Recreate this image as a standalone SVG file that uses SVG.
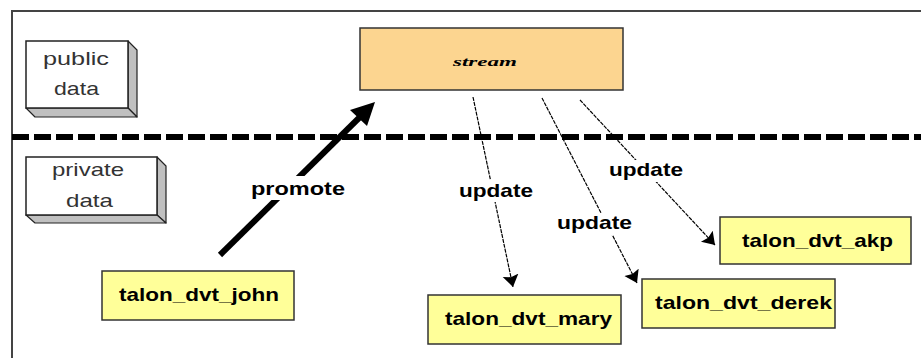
<svg xmlns="http://www.w3.org/2000/svg" width="921" height="358" viewBox="0 0 921 358">
<style>
.frame{fill:none;stroke:#444;stroke-width:2}
.sep{stroke:#000;stroke-width:6;stroke-dasharray:17 5}
.front{fill:#fff;stroke:#222;stroke-width:1.5}
.face{fill:#c0c0c0;stroke:#222;stroke-width:1.2;stroke-linejoin:round}
.ytxt{font-family:"Liberation Sans",Arial,sans-serif;font-weight:bold;font-size:19px;fill:#000}
.ybox{fill:#ffff99;stroke:#333;stroke-width:1.5}
.gtxt{font-family:"Liberation Sans",Arial,sans-serif;font-size:19px;fill:#333}
.lbl{font-family:"Liberation Sans",Arial,sans-serif;font-weight:bold;font-size:19px;fill:#000}
.thin{stroke:#000;stroke-width:1.2;stroke-dasharray:4 1;fill:none}
</style>
<defs>
<marker id="ah" markerUnits="userSpaceOnUse" markerWidth="16" markerHeight="18" refX="12" refY="8" orient="auto">
<path d="M0,0 L12,8 L0,16 L2,8 Z" fill="#000"/>
</marker>
</defs>
<path class="frame" d="M12,358 V11 H921"/>
<line class="sep" x1="12" y1="137" x2="921" y2="137"/>
<g id="public-data">
<polygon class="face" points="128,41 137,50 137,117 128,108"/>
<polygon class="face" points="26,108 128,108 137,117 35,117"/>
<rect class="front" x="26" y="41" width="102" height="67"/>
<text class="gtxt" x="43" y="65" textLength="66" lengthAdjust="spacingAndGlyphs">public</text>
<text class="gtxt" x="54" y="95" textLength="45" lengthAdjust="spacingAndGlyphs">data</text>
</g>
<g id="private-data">
<polygon class="face" points="157,157 166,166 166,223 157,215"/>
<polygon class="face" points="26,215 157,215 166,223 35,223"/>
<rect class="front" x="26" y="157" width="131" height="58"/>
<text class="gtxt" x="52" y="176" textLength="72" lengthAdjust="spacingAndGlyphs">private</text>
<text class="gtxt" x="66" y="207" textLength="47" lengthAdjust="spacingAndGlyphs">data</text>
</g>
<g id="stream">
<rect x="360" y="28" width="263" height="62" fill="#fcd590" stroke="#333" stroke-width="1.5"/>
<text x="453" y="66" font-family="'Liberation Serif',serif" font-weight="bold" font-style="italic" font-size="13" textLength="64" lengthAdjust="spacingAndGlyphs" fill="#000">stream</text>
</g>
<g id="talon_dvt_john">
<rect class="ybox" x="102" y="271" width="192" height="49"/>
<text class="ytxt" x="119" y="301" textLength="160" lengthAdjust="spacingAndGlyphs">talon_dvt_john</text>
</g>
<g id="talon_dvt_mary">
<rect class="ybox" x="428" y="295" width="193" height="49"/>
<text class="ytxt" x="445" y="325" textLength="167" lengthAdjust="spacingAndGlyphs">talon_dvt_mary</text>
</g>
<g id="talon_dvt_derek">
<rect class="ybox" x="642" y="279" width="193" height="49"/>
<text class="ytxt" x="655" y="309" textLength="177" lengthAdjust="spacingAndGlyphs">talon_dvt_derek</text>
</g>
<g id="talon_dvt_akp">
<rect class="ybox" x="720" y="217" width="191" height="47"/>
<text class="ytxt" x="742" y="247" textLength="151" lengthAdjust="spacingAndGlyphs">talon_dvt_akp</text>
</g>
<g id="connectors">
<line x1="220" y1="255" x2="362" y2="115" stroke="#000" stroke-width="6"/>
<polygon points="375,102 350,110 367,126" fill="#000"/>
<rect x="249" y="176" width="98" height="24" fill="#fff"/>
<text class="lbl" x="251" y="195" textLength="94" lengthAdjust="spacingAndGlyphs">promote</text>
<line class="thin" x1="473" y1="97" x2="513" y2="287" marker-end="url(#ah)"/>
<rect x="457" y="180" width="78" height="22" fill="#fff"/>
<text class="lbl" x="459" y="197" textLength="74" lengthAdjust="spacingAndGlyphs">update</text>
<line class="thin" x1="542" y1="98" x2="637" y2="283" marker-end="url(#ah)"/>
<rect x="555" y="213" width="79" height="22" fill="#fff"/>
<text class="lbl" x="557" y="229" textLength="75" lengthAdjust="spacingAndGlyphs">update</text>
<line class="thin" x1="580" y1="100" x2="715" y2="245" marker-end="url(#ah)"/>
<rect x="607" y="160" width="78" height="22" fill="#fff"/>
<text class="lbl" x="609" y="176" textLength="74" lengthAdjust="spacingAndGlyphs">update</text>
</g>
</svg>
